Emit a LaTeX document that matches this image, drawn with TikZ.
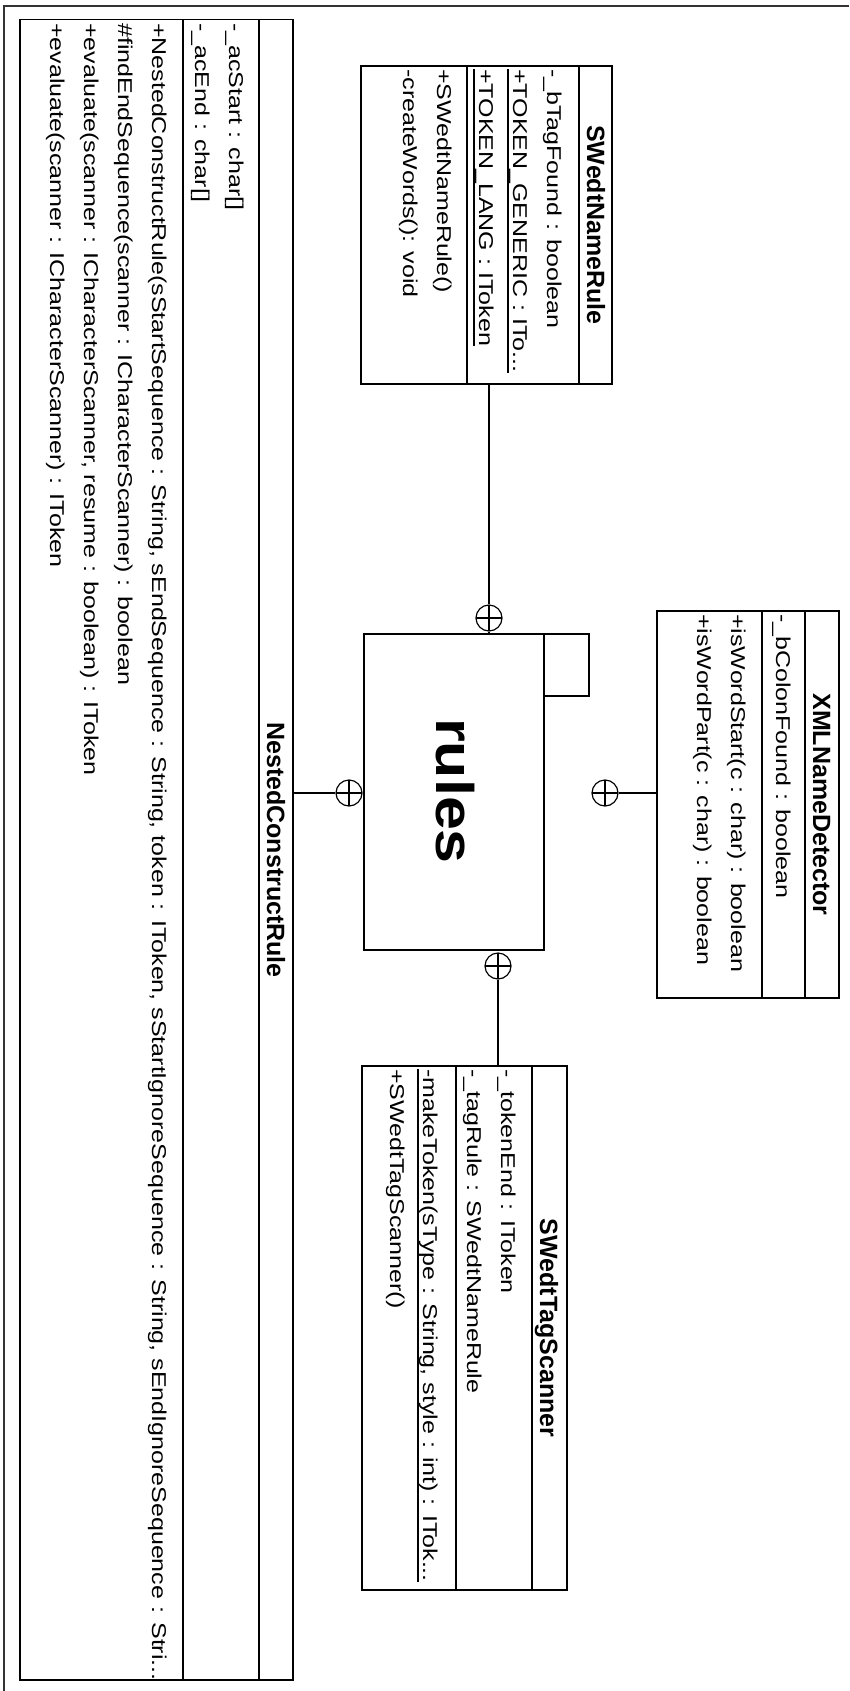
\documentclass[tikz,border=0pt]{standalone}
\usepackage{fontspec}
\usepackage{graphicx}
\setmainfont{Liberation Sans}
\newfontfamily\memfam[FakeStretch=1.25]{Liberation Sans}
\newfontfamily\ttlfam{Liberation Sans}
\newcommand\memfont{\memfam\fontsize{20}{24}\selectfont}
\newcommand\ttlfont{\ttlfam\bfseries\fontsize{25}{30}\selectfont}
\begin{document}
\begin{tikzpicture}[x=1pt,y=-1pt,
  edge/.style={line width=1.3pt, black},
  cls/.style={draw, line width=1.3pt, rectangle, inner sep=0pt},
  mem/.style={rotate=-90, anchor=base west, inner sep=0pt, font=\memfont},
  ttl/.style={rotate=-90, anchor=base, inner sep=0pt, font=\ttlfont},
  nest/.style={circle, draw, line width=1.2pt, minimum size=26pt, inner sep=0pt,
    path picture={\draw[line width=1.2pt] (path picture bounding box.north) -- (path picture bounding box.south)
      (path picture bounding box.west) -- (path picture bounding box.east);}},
  uline/.style={line width=1.2pt}
]
\useasboundingbox (0,0) rectangle (849,1691);
\fill[white] (0,0) rectangle (849,1691);
% frame
\draw[line width=1.3pt, black!80] (4,1691) -- (4,6) -- (849,6);

% ---------- NestedConstructRule ----------
\node[cls, minimum width=273pt, minimum height=1660.5pt] (ncr) at (156.5,849.75) {};
\draw[edge] (183,19.5) -- (183,1680);
\draw[edge] (259,19.5) -- (259,1680);
\node[ttl] (ncrT) at (267,850) {NestedConstructRule};
\node[mem] (ncrA1) at (229,23) {-\_acStart : char[]};
\node[mem] (ncrA2) at (195,23) {-\_acEnd : char[]};
\node[mem] (ncrM1) at (152,23) {+NestedConstructRule(sStartSequence : String, sEndSequence : String, token : IToken, sStartIgnoreSequence : String, sEndIgnoreSequence : Stri...};
\node[mem] (ncrM2) at (118,23) {\#findEndSequence(scanner : ICharacterScanner) : boolean};
\node[mem] (ncrM3) at (84,23) {+evaluate(scanner : ICharacterScanner, resume : boolean) : IToken};
\node[mem] (ncrM4) at (50,23) {+evaluate(scanner : ICharacterScanner) : IToken};

% ---------- SWedtNameRule ----------
\node[cls, minimum width=251pt, minimum height=318pt] (swnr) at (486.5,225) {};
\draw[edge] (467,66) -- (467,384);
\draw[edge] (579,66) -- (579,384);
\node[ttl] (swnrT) at (587,225) {SWedtNameRule};
\node[mem] (swnrA1) at (547,69) {-\_bTagFound : boolean};
\node[mem] (swnrA2) at (513,69) {+TOKEN\_GENERIC : ITo...};
\node[mem] (swnrA3) at (479,69) {+TOKEN\_LANG : IToken};
\draw[uline] ([xshift=-5pt]swnrA2.base west) -- ([xshift=-5pt]swnrA2.base east);
\draw[uline] ([xshift=-5pt]swnrA3.base west) -- ([xshift=-5pt]swnrA3.base east);
\node[mem] (swnrM1) at (437,69) {+SWedtNameRule()};
\node[mem] (swnrM2) at (403,69) {-createWords(): void};

% ---------- XMLNameDetector ----------
\node[cls, minimum width=182pt, minimum height=387pt] (xml) at (748,804.5) {};
\draw[edge] (762,611) -- (762,998);
\draw[edge] (805,611) -- (805,998);
\node[ttl] (xmlT) at (813,804.5) {XMLNameDetector};
\node[mem] (xmlA1) at (776,614) {-\_bColonFound : boolean};
\node[mem] (xmlM1) at (731,614) {+isWordStart(c : char) : boolean};
\node[mem] (xmlM2) at (697,614) {+isWordPart(c : char) : boolean};

% ---------- SWedtTagScanner ----------
\node[cls, minimum width=205pt, minimum height=524pt] (swts) at (464.5,1328) {};
\draw[edge] (456,1066) -- (456,1590);
\draw[edge] (532,1066) -- (532,1590);
\node[ttl] (swtsT) at (540,1328) {SWedtTagScanner};
\node[mem] (swtsA1) at (501,1069) {-\_tokenEnd : IToken};
\node[mem] (swtsA2) at (467,1069) {-\_tagRule : SWedtNameRule};
\node[mem] (swtsM1) at (423,1069) {-makeToken(sType : String, style : int) : ITok...};
\draw[uline] ([xshift=-5pt]swtsM1.base west) -- ([xshift=-5pt]swtsM1.base east);
\node[mem] (swtsM2) at (390,1069) {+SWedtTagScanner()};

% ---------- package rules ----------
\node[cls, minimum width=180pt, minimum height=316pt] (pkg) at (454,792) {};
\node[cls, minimum width=45pt, minimum height=62pt] (pkgtab) at (566.5,665) {};
\node[rotate=-90, inner sep=0pt] (pkgname) at (455,791)
  {\scalebox{1.15}[1]{\ttlfam\bfseries\fontsize{53}{60}\selectfont rules}};

% ---------- nesting connectors ----------
\node[nest] (otop) at (489,618) {};
\node[nest] (oleft) at (349,793) {};
\node[nest] (oright) at (605,793) {};
\node[nest] (obot) at (498,966) {};

\draw[edge] (otop |- swnr.south) -- (otop.north);
\draw[edge] (otop.south) -- (otop |- pkg.north);
\draw[edge] (ncr.east |- oleft) -- (oleft.west);
\draw[edge] (oleft.east) -- (pkg.west |- oleft);
\draw[edge] (xml.west |- oright) -- (oright.east);
\draw[edge] (obot |- swts.north) -- (obot.south);
\end{tikzpicture}
\end{document}
